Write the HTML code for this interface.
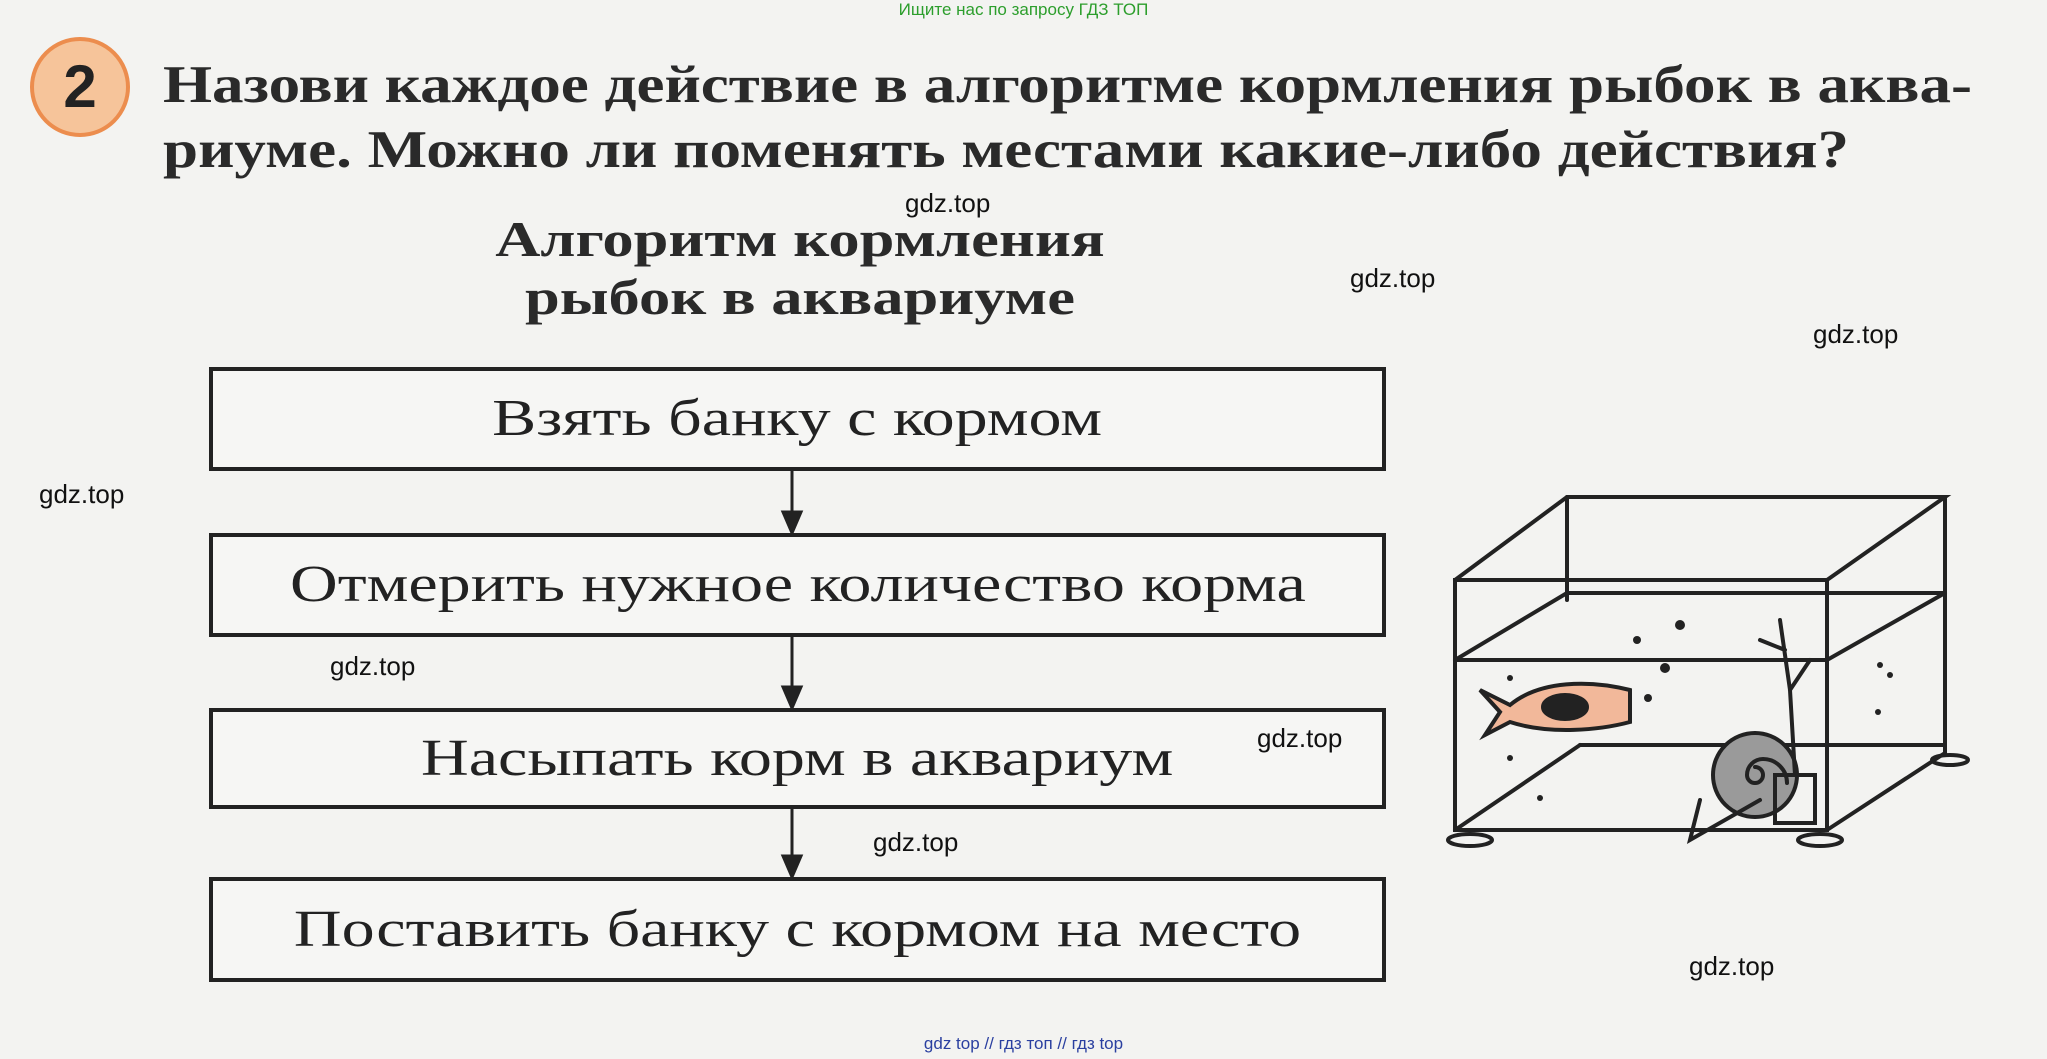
<!DOCTYPE html>
<html><head><meta charset="utf-8"><style>
body{margin:0;width:2047px;height:1059px;overflow:hidden;background:#f3f3f1;position:relative;font-family:"Liberation Serif",serif}
.a{position:absolute;white-space:nowrap}
.t{font-size:53px;font-weight:bold;color:#2a2a2a;left:163px;transform:scaleX(1.19);transform-origin:left top}
.h{font-size:50px;font-weight:bold;color:#2a2a2a;width:600px;text-align:center;left:500px;transform:scaleX(1.25);transform-origin:center top}
.b{position:absolute;left:209px;width:1169px;border:4px solid #222;background:#f6f6f4;color:#222;text-align:center}
.b span{display:inline-block;font-size:52px;transform:scaleX(1.27)}
.w{position:absolute;font-family:"Liberation Sans",sans-serif;font-size:26px;color:#111}
</style></head><body>
<div class="a" style="left:0;width:2047px;text-align:center;top:0;font-family:'Liberation Sans',sans-serif;font-size:17px;color:#2c9e2c">Ищите нас по запросу ГДЗ ТОП</div>
<div class="a" style="left:30px;top:37px;width:100px;height:100px;border-radius:50%;background:#f6c49a;border:4px solid #ec8d4e;box-sizing:border-box;text-align:center;line-height:92px;font-size:60px;font-weight:bold;color:#222;font-family:'Liberation Sans',sans-serif">2</div>
<div class="a t" style="top:55px">Назови каждое действие в алгоритме кормления рыбок в аква-</div>
<div class="a t" style="top:120px">риуме. Можно ли поменять местами какие-либо действия?</div>
<div class="a h" style="top:210px">Алгоритм кормления</div>
<div class="a h" style="top:268px">рыбок в аквариуме</div>
<div class="b" style="top:367px;height:96px;line-height:96px"><span>Взять банку с кормом</span></div>
<div class="b" style="top:533px;height:96px;line-height:96px"><span>Отмерить нужное количество корма</span></div>
<div class="b" style="top:708px;height:93px;line-height:93px"><span>Насыпать корм в аквариум</span></div>
<div class="b" style="top:877px;height:97px;line-height:97px"><span>Поставить банку с кормом на место</span></div>
<svg class="a" style="left:0;top:0" width="2047" height="1059">
<g stroke="#222" stroke-width="3" fill="#222">
<line x1="792" y1="471" x2="792" y2="522"/><polygon points="783,512 801,512 792,533"/>
<line x1="792" y1="637" x2="792" y2="697"/><polygon points="783,687 801,687 792,708"/>
<line x1="792" y1="809" x2="792" y2="866"/><polygon points="783,856 801,856 792,877"/>
</g>
<g stroke="#222" stroke-width="4" fill="none" stroke-linecap="round">
<rect x="1455" y="580" width="372" height="250"/>
<polyline points="1455,580 1567,497 1945,497 1827,580"/>
<line x1="1567" y1="497" x2="1567" y2="600"/>
<line x1="1945" y1="497" x2="1945" y2="753"/>
<line x1="1567" y1="593" x2="1945" y2="593"/>
<line x1="1455" y1="660" x2="1567" y2="593"/>
<line x1="1455" y1="660" x2="1827" y2="660"/>
<line x1="1827" y1="660" x2="1945" y2="593"/>
<line x1="1455" y1="830" x2="1580" y2="745"/>
<line x1="1580" y1="745" x2="1945" y2="745"/>
<line x1="1827" y1="830" x2="1945" y2="753"/>
<ellipse cx="1470" cy="840" rx="22" ry="6"/><ellipse cx="1820" cy="840" rx="22" ry="6"/><ellipse cx="1950" cy="760" rx="18" ry="5"/>
<path d="M1480,690 L1500,712 L1485,735 L1510,722 C1550,735 1600,730 1630,722 L1630,690 C1590,680 1540,680 1510,705 Z" fill="#f2b89a"/>
<ellipse cx="1565" cy="707" rx="22" ry="12" fill="#222"/>
<circle cx="1755" cy="775" r="42" fill="#9a9a9a"/>
<path d="M1755,775 m0,-8 a8,8 0 1 1 -8,8 a16,16 0 0 1 16,-16 a24,24 0 0 1 24,24" />
<path d="M1700,800 L1690,840 L1760,800"/>
<rect x="1775" y="775" width="40" height="48"/>
<path d="M1795,775 L1790,690 L1780,620 M1790,690 L1810,660 M1785,650 L1760,640"/>
</g>
<g fill="#222"><circle cx="1680" cy="625" r="5"/><circle cx="1637" cy="640" r="4"/><circle cx="1665" cy="668" r="5"/><circle cx="1648" cy="698" r="4"/><circle cx="1510" cy="678" r="3"/><circle cx="1510" cy="758" r="3"/><circle cx="1540" cy="798" r="3"/><circle cx="1880" cy="665" r="3"/><circle cx="1890" cy="675" r="3"/><circle cx="1878" cy="712" r="3"/></g>
</svg>
<div class="w" style="left:905px;top:188px">gdz.top</div>
<div class="w" style="left:1350px;top:263px">gdz.top</div>
<div class="w" style="left:1813px;top:319px">gdz.top</div>
<div class="w" style="left:39px;top:479px">gdz.top</div>
<div class="w" style="left:330px;top:651px">gdz.top</div>
<div class="w" style="left:1257px;top:723px">gdz.top</div>
<div class="w" style="left:873px;top:827px">gdz.top</div>
<div class="w" style="left:1689px;top:951px">gdz.top</div>
<div class="a" style="left:0;width:2047px;text-align:center;top:1034px;font-family:'Liberation Sans',sans-serif;font-size:17px;color:#2a3fa0">gdz top // гдз топ // гдз top</div>
</body></html>
